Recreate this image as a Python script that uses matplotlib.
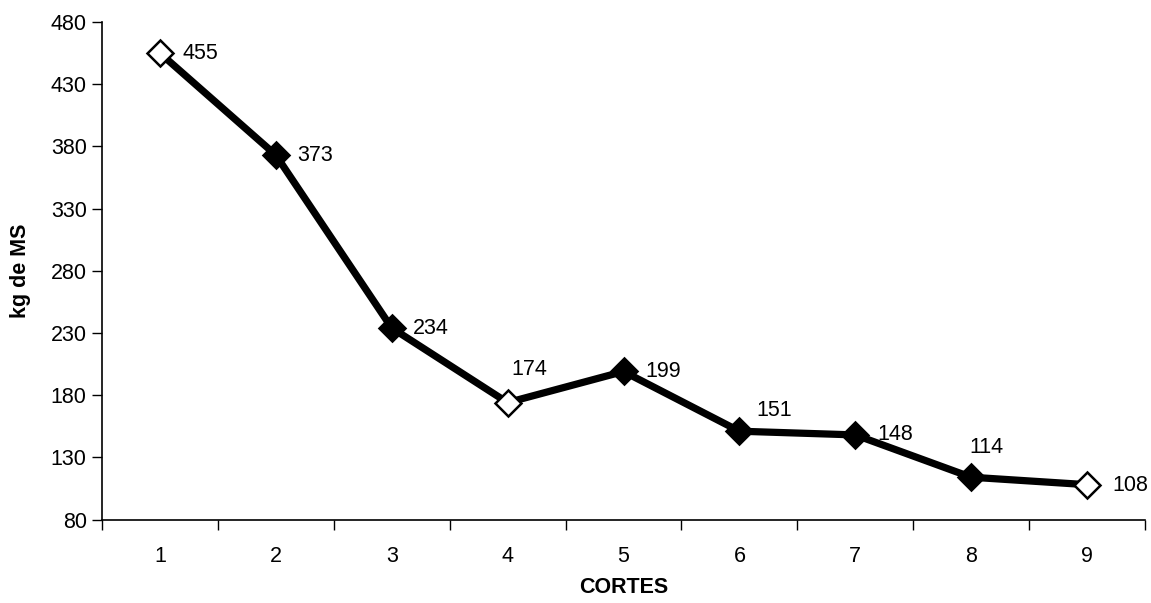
import matplotlib
matplotlib.use("Agg")
import matplotlib.pyplot as plt
from matplotlib.ticker import FixedLocator, NullFormatter

plt.rcParams['font.family'] = ['Liberation Sans', 'DejaVu Sans']

cortes = [1, 2, 3, 4, 5, 6, 7, 8, 9]
kg_ms = [455, 373, 234, 174, 199, 151, 148, 114, 108]
open_marker = [True, False, False, True, False, False, False, False, True]
# label offsets in pixels (dx, dy) relative to the point
label_offsets = [(23, 0), (21, 0), (21, -1), (4, 33), (22, 0), (17, 21), (22, 0), (-2, 30), (25, -1)]
yticks = [80, 130, 180, 230, 280, 330, 380, 430, 480]

fig = plt.figure(figsize=(11.51, 6.03), dpi=100)
ax = fig.add_axes([102/1151, 1 - 519.5/603, (1145-102)/1151, (519.5-22)/603])

ax.plot(cortes, kg_ms, color='black', linewidth=5.2, solid_joinstyle='miter', zorder=2)
for x, y, op in zip(cortes, kg_ms, open_marker):
    ax.plot([x], [y], marker='D', markersize=13.5, markeredgewidth=1.8,
            markerfacecolor='white' if op else 'black', markeredgecolor='black',
            linestyle='none', zorder=3)

px2pt = 72/100
for x, y, (dx, dy) in zip(cortes, kg_ms, label_offsets):
    ax.annotate(str(y), (x, y), xytext=(dx*px2pt, dy*px2pt), textcoords='offset points',
                ha='left', va='center', fontsize=15.5, zorder=4)

ax.set_xlim(0.5, 9.5)
ax.set_ylim(80, 480)
ax.set_yticks(yticks)
ax.set_yticklabels([str(v) for v in yticks])
ax.set_xticks(cortes)
ax.set_xticklabels([str(c) for c in cortes])
ax.xaxis.set_minor_locator(FixedLocator([i + 0.5 for i in range(0, 10)]))
ax.xaxis.set_minor_formatter(NullFormatter())
ax.tick_params(axis='x', which='major', length=0, pad=19, labelsize=15.5)
ax.tick_params(axis='x', which='minor', length=7, width=1, direction='out')
ax.tick_params(axis='y', which='major', length=7, width=1, direction='out', pad=4, labelsize=15.5)

for s in ['top', 'right']:
    ax.spines[s].set_visible(False)
for s in ['left', 'bottom']:
    ax.spines[s].set_linewidth(1.2)

ax.set_xlabel('CORTES', fontsize=15.5, fontweight='bold', labelpad=7)
ax.set_ylabel('kg de MS', fontsize=15.5, fontweight='bold', labelpad=14)

fig.savefig('out.png', dpi=100)
